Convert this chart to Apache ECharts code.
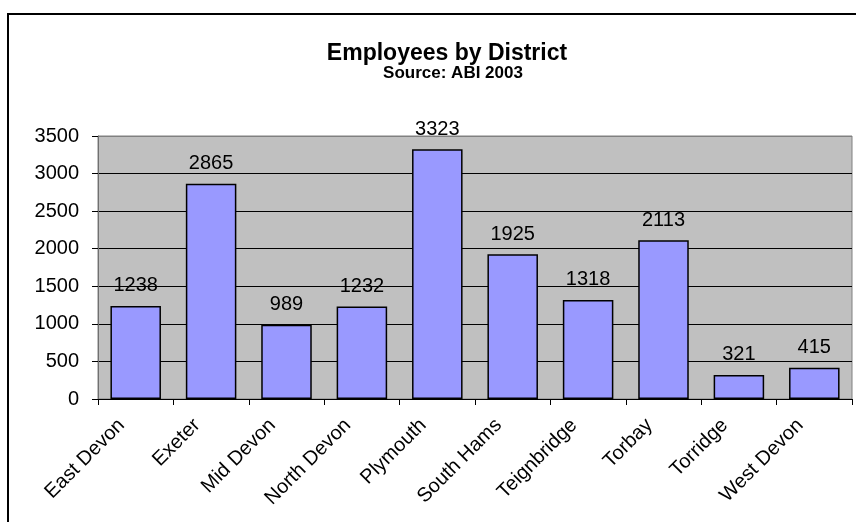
<!DOCTYPE html>
<html>
<head>
<meta charset="utf-8">
<script src="https://cdn.jsdelivr.net/npm/echarts@6/dist/echarts.min.js"></script>
<style>
  html, body { margin: 0; padding: 0; background: #fff; }
  #chart { width: 856px; height: 522px; }
</style>
</head>
<body>
<div id="chart"></div>
<script>
// Employees by district (ABI 2003)
const districts = ['East Devon', 'Exeter', 'Mid Devon', 'North Devon', 'Plymouth',
                   'South Hams', 'Teignbridge', 'Torbay', 'Torridge', 'West Devon'];
const employees = [1238, 2865, 989, 1232, 3323, 1925, 1318, 2113, 321, 415];
const yTicks = [0, 500, 1000, 1500, 2000, 2500, 3000, 3500];

const FONT = 'Arial, "Liberation Sans", sans-serif';

const chart = echarts.init(document.getElementById('chart'), null, { renderer: 'canvas' });

chart.setOption({
  animation: false,
  backgroundColor: '#ffffff',
  title: [
    {
      text: 'Employees by District',
      left: 442, top: 37, textAlign: 'center',
      textStyle: { fontFamily: FONT, fontSize: 23, fontWeight: 'bold', color: '#000' }
    },
    {
      text: 'Source: ABI 2003',
      left: 448, top: 60, textAlign: 'center',
      textStyle: { fontFamily: FONT, fontSize: 17, fontWeight: 'bold', color: '#000' }
    }
  ],
  graphic: [
    {
      type: 'rect',
      shape: { x: 8, y: 14, width: 900, height: 600 },
      style: { fill: 'none', stroke: '#000', lineWidth: 2 },
      silent: true
    }
  ],
  grid: {
    left: 98, right: 4, top: 136, bottom: 123,
    show: true, backgroundColor: '#C0C0C0', borderColor: '#808080', borderWidth: 1
  },
  xAxis: {
    type: 'category',
    data: districts,
    boundaryGap: true,
    axisLine: { lineStyle: { color: '#000', width: 1 } },
    axisTick: { show: true, alignWithLabel: false, length: 6, lineStyle: { color: '#000' } },
    axisLabel: {
      interval: 0, rotate: 45, margin: 9, padding: [0, 20, 0, 0],
      fontFamily: FONT, fontSize: 20, color: '#000'
    },
    splitLine: { show: false }
  },
  yAxis: {
    type: 'value',
    min: yTicks[0], max: yTicks[yTicks.length - 1], interval: 500,
    axisLine: { show: true, lineStyle: { color: '#707070', width: 1 } },
    axisTick: { show: true, length: 6, lineStyle: { color: '#000' } },
    axisLabel: {
      margin: 19, fontFamily: FONT, fontSize: 20, color: '#000',
      formatter: (v) => String(v)
    },
    splitLine: {
      show: true,
      lineStyle: { color: ['#000', '#000', '#000', '#000', '#000', '#000', '#000', '#808080'], width: 1 }
    }
  },
  series: [
    {
      type: 'bar',
      data: employees,
      barCategoryGap: '33%',
      itemStyle: { color: '#9999FF', borderColor: '#000', borderWidth: 1.5 },
      label: {
        show: true, position: 'top', distance: 10,
        fontFamily: FONT, fontSize: 20, color: '#000'
      }
    }
  ]
});
</script>
</body>
</html>
